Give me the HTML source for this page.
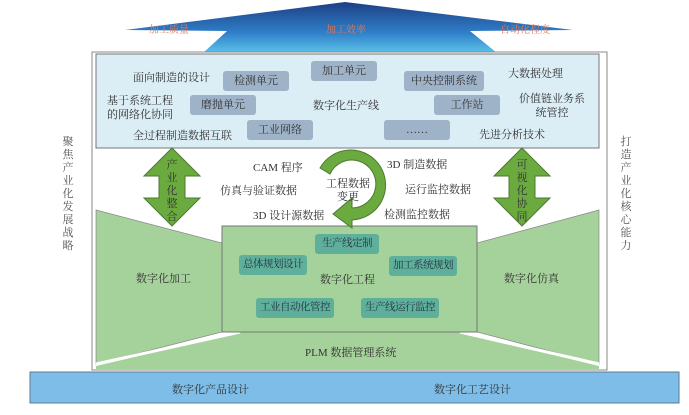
<!DOCTYPE html>
<html><head><meta charset="utf-8"><style>
body{margin:0;width:689px;height:415px;background:#fff;position:relative;overflow:hidden;font-family:"Liberation Serif","Noto Serif CJK SC",serif;}
.t{position:absolute;font-size:11px;color:#333;white-space:nowrap;}
.b{position:absolute;background:#9fb3c8;border-radius:3px;font-size:11px;color:#333;text-align:center;line-height:20px;white-space:nowrap;}
.g{position:absolute;background:#5fb09a;border-radius:3px;font-size:10.5px;color:#234;text-align:center;line-height:20px;white-space:nowrap;letter-spacing:-0.5px;}
.v{position:absolute;font-size:11px;color:#555;width:12px;line-height:13px;text-align:center;}
</style></head><body>
<svg width="689" height="415" style="position:absolute;left:0;top:0">
<defs><linearGradient id="bl" x1="0" y1="0" x2="0" y2="1"><stop offset="0" stop-color="#1e3f85"/><stop offset="0.6" stop-color="#2f7fc8"/><stop offset="1" stop-color="#5cc3ea"/></linearGradient></defs>
<polygon points="125,30 345,2 573,30 470,31 497,53 203,53 227,31" fill="url(#bl)"/>
<rect x="92" y="52" width="515" height="318" fill="#fff" stroke="#888" stroke-width="1"/>
<rect x="96" y="54" width="503" height="94" fill="#dbeef6" stroke="#777"/>
<polygon points="96,210 222,243 222,332 96,364" fill="#a5d19b" stroke="#888" stroke-width="0.7"/>
<polygon points="599,210 477,243 477,332 599,364" fill="#a5d19b" stroke="#888" stroke-width="0.7"/>
<polygon points="240,332 460,332 599,366 599,369 96,369 96,366" fill="#a5d19b"/>
<line x1="96" y1="364" x2="240" y2="332" stroke="#fff" stroke-width="3"/>
<line x1="599" y1="364" x2="460" y2="332" stroke="#fff" stroke-width="3"/>
<rect x="222" y="226" width="255" height="106" fill="#a5d19b" stroke="#777"/>
<rect x="30" y="372" width="649" height="31" fill="#7dbde8" stroke="#5a7a99"/>
<polygon points="172,148 200,176 185,176 185,198 200,198 172,226 144,198 159,198 159,176 144,176" fill="#6aaa3f" stroke="#4a7a30"/>
<polygon points="522,148 550,176 535,176 535,198 550,198 522,226 494,198 509,198 509,176 494,176" fill="#6aaa3f" stroke="#4a7a30"/>
<path d="M320,168 A35,35 0 1 1 352,220 L352,228 L333,214 L352,198 L352,208 A24,24 0 1 0 330,174 Z" fill="#6aaa3f" stroke="#4a7a30"/>
</svg>
<div class="t" style="left:149px;top:21px;color:#e07a5a;font-size:10px">加工质量</div>
<div class="t" style="left:326px;top:21px;color:#e07a5a;font-size:10px">加工效率</div>
<div class="t" style="left:500px;top:21px;color:#e07a5a;font-size:10px">自动化程度</div>
<div class="t" style="left:133px;top:69px">面向制造的设计</div>
<div class="t" style="left:107px;top:94px;line-height:14px">基于系统工程<br>的网络化协同</div>
<div class="t" style="left:133px;top:127px">全过程制造数据互联</div>
<div class="b" style="left:223px;top:71px;width:66px">检测单元</div>
<div class="b" style="left:311px;top:61px;width:66px">加工单元</div>
<div class="b" style="left:404px;top:71px;width:80px">中央控制系统</div>
<div class="b" style="left:190px;top:95px;width:66px">磨抛单元</div>
<div class="b" style="left:434px;top:95px;width:66px">工作站</div>
<div class="b" style="left:247px;top:120px;width:66px">工业网络</div>
<div class="b" style="left:384px;top:120px;width:66px">……</div>
<div class="t" style="left:313px;top:97px">数字化生产线</div>
<div class="t" style="left:508px;top:65px">大数据处理</div>
<div class="t" style="left:519px;top:92px;line-height:14px;text-align:center">价值链业务系<br>统管控</div>
<div class="t" style="left:479px;top:126px">先进分析技术</div>
<div class="t" style="left:253px;top:159px">CAM 程序</div>
<div class="t" style="left:220px;top:182px">仿真与验证数据</div>
<div class="t" style="left:253px;top:207px">3D 设计源数据</div>
<div class="t" style="left:387px;top:156px">3D 制造数据</div>
<div class="t" style="left:405px;top:181px">运行监控数据</div>
<div class="t" style="left:384px;top:206px">检测监控数据</div>
<div class="t" style="left:326px;top:178px;line-height:13px;text-align:center">工程数据<br>变更</div>
<div class="v" style="left:166px;top:159px;color:#333">产业化整合</div>
<div class="v" style="left:516px;top:159px;color:#333">可视化协同</div>
<div class="v" style="left:62px;top:136px">聚焦产业化发展战略</div>
<div class="v" style="left:620px;top:136px">打造产业化核心能力</div>
<div class="g" style="left:315px;top:234px;width:64px">生产线定制</div>
<div class="g" style="left:239px;top:255px;width:68px">总体规划设计</div>
<div class="g" style="left:389px;top:256px;width:68px">加工系统规划</div>
<div class="g" style="left:256px;top:298px;width:78px">工业自动化管控</div>
<div class="g" style="left:361px;top:298px;width:78px">生产线运行监控</div>
<div class="t" style="left:320px;top:271px">数字化工程</div>
<div class="t" style="left:136px;top:270px">数字化加工</div>
<div class="t" style="left:504px;top:270px">数字化仿真</div>
<div class="t" style="left:305px;top:344px">PLM 数据管理系统</div>
<div class="t" style="left:172px;top:381px">数字化产品设计</div>
<div class="t" style="left:434px;top:381px">数字化工艺设计</div>
</body></html>
